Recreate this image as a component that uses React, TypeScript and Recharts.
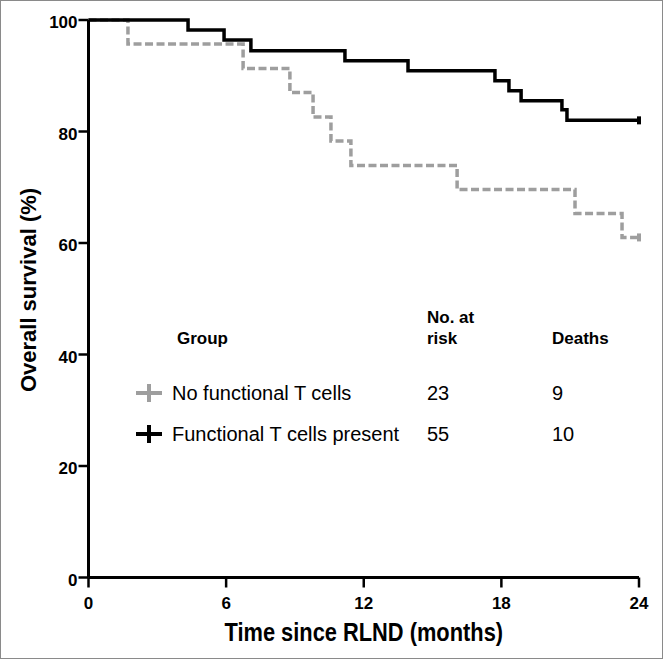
import React from "react";
import { LineChart, Line, XAxis, YAxis, Label } from "recharts";

// Kaplan-Meier step points (months, % surviving)
const presentTimes = [0, 4.34, 5.91, 7.08, 11.18, 13.93, 17.72, 18.33, 18.86, 20.64, 20.86, 24];
const presentSurvival = [100, 98.2, 96.4, 94.5, 92.7, 90.9, 89.1, 87.3, 85.5, 83.9, 82.0, 82.0];

const absentTimes = [0, 1.72, 6.74, 8.78, 9.79, 10.57, 11.44, 16.07, 21.21, 23.26, 24];
const absentSurvival = [100, 95.7, 91.3, 87.0, 82.6, 78.3, 73.9, 69.6, 65.3, 61.0, 61.0];

const censorTimes = [24];

const xTicks = [0, 6, 12, 18, 24];
const yTicks = [0, 20, 40, 60, 80, 100];

const groups = ["No functional T cells", "Functional T cells present"];
const atRisk = [23, 55];
const deaths = [9, 10];
const groupColors = ["#9e9e9e", "#000000"];

const presentData = presentTimes.map((t, i) => ({ t, s: presentSurvival[i] }));
const absentData = absentTimes.map((t, i) => ({ t, s: absentSurvival[i] }));

const sans = "'Liberation Sans', Arial, sans-serif";

const censorDot = (color: string) => (props: any) => {
  const { cx, cy, payload, index } = props;
  if (!censorTimes.includes(payload.t)) return <g key={index} />;
  return <line key={index} x1={cx} x2={cx} y1={cy - 4} y2={cy + 4} stroke={color} strokeWidth={4} />;
};

const XTick = (props: any) => {
  const { x, y, payload } = props;
  return (
    <text x={x} y={y + 19} textAnchor="middle" fontFamily={sans} fontWeight="bold" fontSize={17} fill="#000">
      {payload.value}
    </text>
  );
};

const YTick = (props: any) => {
  const { x, y, payload } = props;
  return (
    <text x={x} y={y + 8} textAnchor="end" fontFamily={sans} fontWeight="bold" fontSize={17} fill="#000">
      {payload.value}
    </text>
  );
};

const App = () => {
  return (
    <div style={{ position: "absolute", left: 0, top: 0, width: 664, height: 660, background: "#fff" }}>
      <LineChart
        width={664}
        height={660}
        margin={{ top: 20, right: 25, bottom: 0, left: 0 }}
      >
        <XAxis
          dataKey="t"
          type="number"
          domain={[0, 24]}
          ticks={xTicks}
          height={82.5}
          tickSize={10}
          tick={<XTick />}
          axisLine={{ stroke: "#000", strokeWidth: 3 }}
          tickLine={{ stroke: "#000", strokeWidth: 2.5 }}
        >
          <Label
            content={(p: any) => {
              const cx = p.viewBox.x + p.viewBox.width / 2;
              // the original title is set in a condensed bold face
              return (
                <text
                  transform={`translate(${cx} 641) scale(0.84 1)`}
                  textAnchor="middle"
                  fontFamily={sans}
                  fontWeight="bold"
                  fontSize={26}
                  fill="#000"
                >
                  Time since RLND (months)
                </text>
              );
            }}
          />
        </XAxis>
        <YAxis
          type="number"
          domain={[0, 100]}
          ticks={yTicks}
          width={88.5}
          tickSize={10}
          tickMargin={1}
          tick={<YTick />}
          axisLine={{ stroke: "#000", strokeWidth: 3 }}
          tickLine={{ stroke: "#000", strokeWidth: 2.5 }}
        >
          <Label
            content={() => (
              <text
                x={36}
                y={290}
                transform="rotate(-90 36 290)"
                textAnchor="middle"
                fontFamily={sans}
                fontWeight="bold"
                fontSize={22}
                fill="#000"
              >
                Overall survival (%)
              </text>
            )}
          />
        </YAxis>
        <Line
          data={absentData}
          dataKey="s"
          type="stepAfter"
          stroke={groupColors[0]}
          strokeWidth={3.5}
          strokeDasharray="8 3.5"
          dot={censorDot(groupColors[0])}
          activeDot={false}
          isAnimationActive={false}
        />
        <Line
          data={presentData}
          dataKey="s"
          type="stepAfter"
          stroke={groupColors[1]}
          strokeWidth={3.5}
          dot={censorDot(groupColors[1])}
          activeDot={false}
          isAnimationActive={false}
        />
      </LineChart>

      <svg width={664} height={660} style={{ position: "absolute", left: 0, top: 0, pointerEvents: "none" }}>
        <g fontFamily={sans} fill="#000">
          <text x={177} y={344} fontWeight="bold" fontSize={17}>Group</text>
          <text x={427} y={323} fontWeight="bold" fontSize={17}>No. at</text>
          <text x={427} y={344} fontWeight="bold" fontSize={17}>risk</text>
          <text x={552} y={344} fontWeight="bold" fontSize={17}>Deaths</text>
          {groups.map((g, i) => {
            const cy = 393 + i * 41;
            return (
              <g key={g}>
                <line x1={136} x2={162} y1={cy} y2={cy} stroke={groupColors[i]} strokeWidth={4} />
                <line x1={149} x2={149} y1={cy - 9} y2={cy + 9} stroke={groupColors[i]} strokeWidth={4} />
                <text x={172} y={cy + 7} fontSize={20}>{g}</text>
                <text x={427} y={cy + 7} fontSize={20}>{atRisk[i]}</text>
                <text x={552} y={cy + 7} fontSize={20}>{deaths[i]}</text>
              </g>
            );
          })}
        </g>
        <rect x={0.5} y={0.5} width={662} height={658} fill="none" stroke="#8a8a8a" strokeWidth={1} />
      </svg>
    </div>
  );
};

export default App;
